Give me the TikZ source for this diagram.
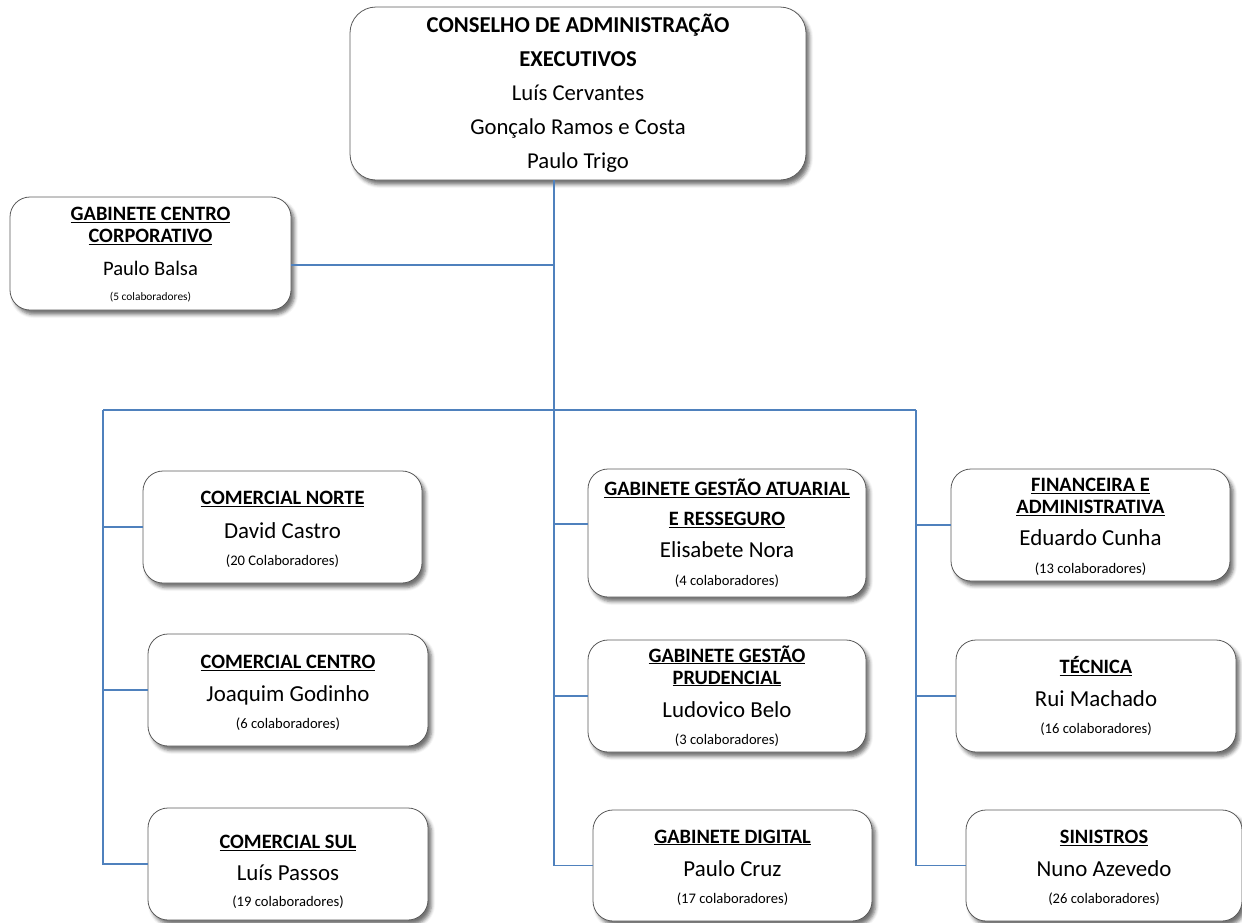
\documentclass[tikz,border=0pt]{standalone}
\usepackage{fontspec}
\setmainfont{Carlito}
\usetikzlibrary{shadows.blur}

\definecolor{linkblue}{HTML}{4F81BD}
\definecolor{boxline}{HTML}{5A5A5A}

% text of a unit: head, chief, staff
\newcommand{\unithead}[1]{{\fontsize{20.4}{22}\selectfont\bfseries\underline{#1}}}
\newcommand{\unitchief}[1]{{\fontsize{22.9}{22}\selectfont #1}}
\newcommand{\unitstaff}[1]{{\fontsize{14.6}{22}\selectfont #1}}
\newcommand{\unitlift}[1]{\rule{0pt}{#1pt}}

\tikzset{
  unit/.style={draw=boxline, line width=0.8pt, rounded corners=20pt, fill=white,
    align=center, inner sep=0pt, font=\fontsize{12}{22}\selectfont,
    minimum width=279pt, minimum height=112pt,
    blur shadow={shadow xshift=3.5pt, shadow yshift=-4.5pt, shadow blur radius=3.5pt, shadow opacity=55}},
  link/.style={draw=linkblue, line width=1.8pt},
  thinlink/.style={draw=linkblue, line width=1.3pt}
}

\begin{document}
\begin{tikzpicture}[x=1pt, y=-1pt]
  \useasboundingbox (0,0) rectangle (1242,922);

  % board
  \node[unit, rounded corners=26pt, minimum width=456pt, minimum height=173pt,
        font=\fontsize{22.7}{22}\selectfont] (board) at (578,93.5)
    {{\bfseries CONSELHO DE ADMINISTRAÇÃO}\\[12pt]{\bfseries EXECUTIVOS}\\[12pt]Luís Cervantes\\[12pt]Gonçalo Ramos e Costa\\[12pt]Paulo Trigo};

  % staff office
  \node[unit, minimum width=281pt, minimum height=113pt] (corp) at (150.5,253.5)
    {\unitlift{16}\unithead{GABINETE CENTRO}\\\unithead{CORPORATIVO}\\[11pt]{\fontsize{20.6}{22}\selectfont Paulo Balsa}\\[3pt]{\fontsize{11.4}{22}\selectfont (5 colaboradores)}};

  % left column
  \node[unit] (north) at (282.5,527)
    {\unitlift{17.6}\unithead{COMERCIAL NORTE}\\[12pt]\unitchief{David Castro}\\[4.5pt]\unitstaff{(20 Colaboradores)}};
  \node[unit, minimum width=280pt] (centre) at (288,690)
    {\unitlift{18.6}\unithead{COMERCIAL CENTRO}\\[11pt]\unitchief{Joaquim Godinho}\\[4.5pt]\unitstaff{(6 colaboradores)}};
  \node[unit, minimum width=280pt] (south) at (288,864)
    {\unitlift{29}\unithead{COMERCIAL SUL}\\[10pt]\unitchief{Luís Passos}\\[4pt]\unitstaff{(19 colaboradores)}};

  % middle column
  \node[unit, minimum width=278pt, minimum height=128pt] (actuarial) at (727,533)
    {\unithead{GABINETE GESTÃO ATUARIAL}\\[8pt]\unithead{E RESSEGURO}\\[10pt]\unitchief{Elisabete Nora}\\[6pt]\unitstaff{(4 colaboradores)}};
  \node[unit, minimum width=278pt] (prudential) at (727,696)
    {\unithead{GABINETE GESTÃO}\\\unithead{PRUDENCIAL}\\[11pt]\unitchief{Ludovico Belo}\\[5.5pt]\unitstaff{(3 colaboradores)}};
  \node[unit, minimum height=111pt] (digital) at (732.5,865.5)
    {\unitlift{17}\unithead{GABINETE DIGITAL}\\[11pt]\unitchief{Paulo Cruz}\\[5pt]\unitstaff{(17 colaboradores)}};

  % right column
  \node[unit] (finance) at (1090.5,525)
    {\unitlift{16.6}\unithead{FINANCEIRA E}\\\unithead{ADMINISTRATIVA}\\[10pt]\unitchief{Eduardo Cunha}\\[5.5pt]\unitstaff{(13 colaboradores)}};
  \node[unit, minimum width=280pt] (technical) at (1096,696)
    {\unithead{TÉCNICA}\\[11pt]\unitchief{Rui Machado}\\[5pt]\unitstaff{(16 colaboradores)}};
  \node[unit, minimum width=276pt, minimum height=111pt] (claims) at (1104,865.5)
    {\unitlift{18}\unithead{SINISTROS}\\[11pt]\unitchief{Nuno Azevedo}\\[5pt]\unitstaff{(26 colaboradores)}};

  % bus points
  \coordinate (busL) at (103,410);
  \coordinate (busC) at (554,410);
  \coordinate (busR) at (916,410);

  % connectors
  \draw[link] (board.south -| busC) -- (busC |- digital.west) -- (digital.west);
  \draw[thinlink] ([yshift=-11.5pt]corp.east) -- ([yshift=-11.5pt]corp.east -| busC);
  \draw[link] (busL) -- (busR);
  \draw[link] (busL) |- (south.west);
  \draw[link] (busR) |- (claims.west);
  \draw[link] (north.west -| busL) -- (north.west);
  \draw[link] (centre.west -| busL) -- (centre.west);
  \draw[link] ([yshift=9pt]actuarial.west -| busC) -- ([yshift=9pt]actuarial.west);
  \draw[link] (prudential.west -| busC) -- (prudential.west);
  \draw[link] (finance.west -| busR) -- (finance.west);
  \draw[link] (technical.west -| busR) -- (technical.west);
\end{tikzpicture}
\end{document}
